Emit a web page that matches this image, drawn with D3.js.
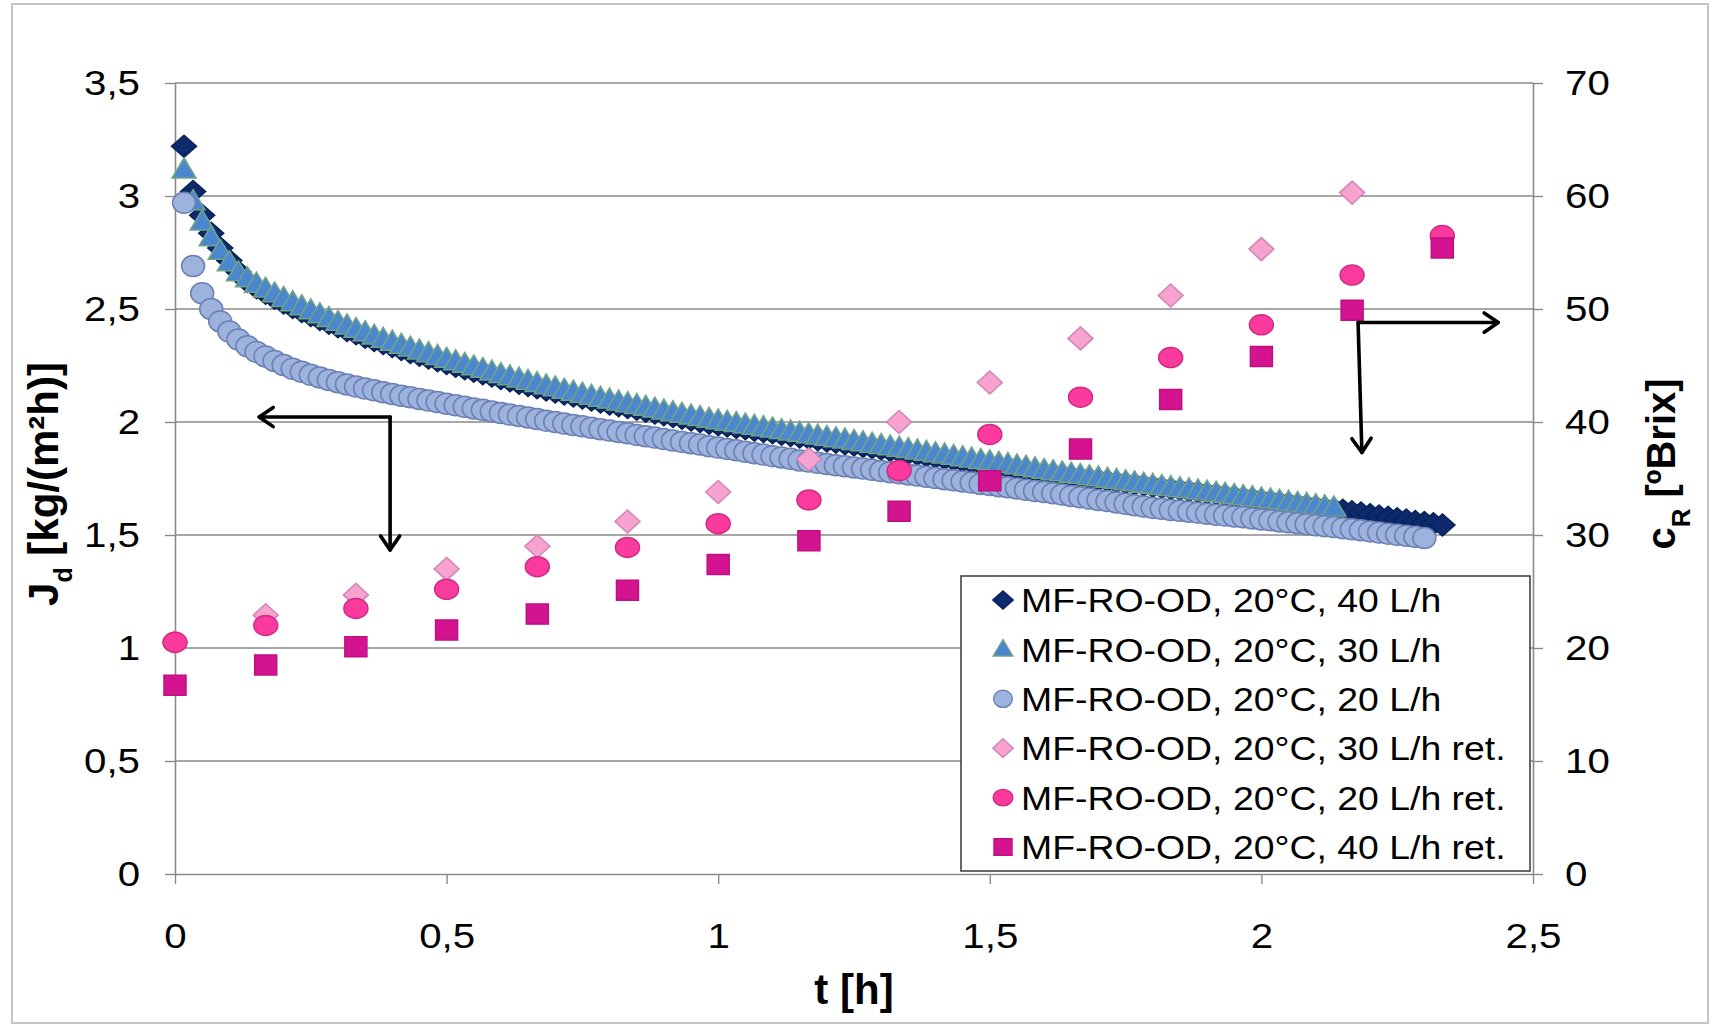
<!DOCTYPE html>
<html>
<head>
<meta charset="utf-8">
<script src="https://cdn.jsdelivr.net/npm/d3@7"></script>
<style>
  body { margin: 0; background: #fff; }
  text { font-family: "Liberation Sans", Arial, sans-serif; fill: #000; }
</style>
</head>
<body>
<div id="chart"></div>
<script>
// ---- data ----
// permeate flux J_d [kg/(m2h)], one reading per minute, starting at t = 1 min
const minuteStep = 1 / 60;
const flux40 = [3.22, 3.02, 2.915, 2.835, 2.770, 2.715, 2.665, 2.622, 2.594, 2.570,
  2.548, 2.527, 2.507, 2.489, 2.471, 2.454, 2.437, 2.421, 2.405, 2.390,
  2.375, 2.361, 2.347, 2.334, 2.321, 2.308, 2.295, 2.283, 2.271, 2.259,
  2.247, 2.236, 2.225, 2.214, 2.203, 2.192, 2.182, 2.172, 2.162, 2.152,
  2.142, 2.133, 2.124, 2.115, 2.106, 2.097, 2.089, 2.080, 2.072, 2.064,
  2.056, 2.048, 2.040, 2.032, 2.024, 2.017, 2.009, 2.002, 1.995, 1.988,
  1.982, 1.976, 1.970, 1.964, 1.958, 1.952, 1.946, 1.940, 1.934, 1.928,
  1.922, 1.916, 1.910, 1.904, 1.898, 1.892, 1.886, 1.880, 1.874, 1.868,
  1.862, 1.856, 1.850, 1.844, 1.838, 1.832, 1.826, 1.820, 1.814, 1.808,
  1.802, 1.796, 1.791, 1.786, 1.780, 1.775, 1.770, 1.765, 1.760, 1.755,
  1.750, 1.745, 1.740, 1.735, 1.730, 1.725, 1.720, 1.715, 1.710, 1.705,
  1.700, 1.695, 1.690, 1.685, 1.680, 1.675, 1.670, 1.665, 1.660, 1.655,
  1.650, 1.645, 1.640, 1.635, 1.630, 1.625, 1.620, 1.615, 1.609, 1.603,
  1.597, 1.590, 1.584, 1.578, 1.572, 1.566, 1.560, 1.555, 1.550, 1.544];
const flux30 = [3.115, 2.975, 2.885, 2.815, 2.755, 2.705, 2.660, 2.634, 2.610, 2.588,
  2.567, 2.547, 2.528, 2.510, 2.492, 2.475, 2.458, 2.441, 2.425, 2.410,
  2.395, 2.380, 2.366, 2.353, 2.340, 2.327, 2.314, 2.302, 2.290, 2.278,
  2.267, 2.255, 2.244, 2.233, 2.221, 2.210, 2.200, 2.190, 2.180, 2.170,
  2.160, 2.151, 2.141, 2.132, 2.123, 2.114, 2.105, 2.097, 2.089, 2.081,
  2.073, 2.065, 2.057, 2.049, 2.041, 2.034, 2.027, 2.020, 2.012, 2.005,
  1.999, 1.993, 1.987, 1.981, 1.975, 1.969, 1.962, 1.956, 1.950, 1.944,
  1.938, 1.932, 1.926, 1.920, 1.914, 1.908, 1.902, 1.896, 1.890, 1.884,
  1.878, 1.872, 1.866, 1.860, 1.854, 1.848, 1.842, 1.836, 1.830, 1.824,
  1.818, 1.812, 1.806, 1.800, 1.793, 1.786, 1.780, 1.775, 1.769, 1.764,
  1.758, 1.753, 1.747, 1.742, 1.736, 1.731, 1.725, 1.720, 1.715, 1.710,
  1.705, 1.700, 1.695, 1.690, 1.685, 1.680, 1.675, 1.670, 1.665, 1.660,
  1.655, 1.650, 1.645, 1.640, 1.635, 1.630, 1.625, 1.620];
const flux20 = [2.97, 2.69, 2.57, 2.50, 2.445, 2.400, 2.365, 2.335, 2.310, 2.290,
  2.270, 2.252, 2.236, 2.222, 2.209, 2.197, 2.186, 2.176, 2.166, 2.157,
  2.148, 2.140, 2.132, 2.124, 2.116, 2.109, 2.102, 2.095, 2.088, 2.081,
  2.074, 2.067, 2.060, 2.054, 2.047, 2.040, 2.033, 2.027, 2.020, 2.013,
  2.006, 2.000, 1.993, 1.987, 1.981, 1.975, 1.968, 1.962, 1.956, 1.950,
  1.943, 1.937, 1.931, 1.925, 1.918, 1.912, 1.906, 1.900, 1.893, 1.887,
  1.881, 1.875, 1.868, 1.862, 1.856, 1.849, 1.843, 1.837, 1.830, 1.825,
  1.820, 1.814, 1.809, 1.804, 1.799, 1.794, 1.789, 1.783, 1.778, 1.773,
  1.768, 1.763, 1.758, 1.752, 1.747, 1.742, 1.737, 1.732, 1.726, 1.721,
  1.716, 1.711, 1.706, 1.700, 1.695, 1.690, 1.685, 1.679, 1.673, 1.667,
  1.661, 1.655, 1.650, 1.644, 1.638, 1.632, 1.626, 1.620, 1.616, 1.611,
  1.607, 1.603, 1.599, 1.594, 1.590, 1.586, 1.582, 1.578, 1.573, 1.569,
  1.565, 1.560, 1.556, 1.552, 1.548, 1.543, 1.539, 1.535, 1.530, 1.525,
  1.521, 1.516, 1.511, 1.506, 1.501, 1.497, 1.492, 1.487];

// retentate concentration c_R [ºBrix], every 10 min
const retTimes = [0, 0.167, 0.333, 0.5, 0.667, 0.833, 1, 1.167, 1.333, 1.5, 1.667, 1.833, 2, 2.167, 2.333];
const ret30 = [20.5, 22.9, 24.7, 27.0, 29.0, 31.2, 33.8, 36.7, 40.0, 43.5, 47.4, 51.2, 55.3, 60.3];
const ret20 = [20.5, 22.0, 23.5, 25.2, 27.2, 28.9, 31.0, 33.1, 35.7, 38.9, 42.2, 45.7, 48.6, 53.0, 56.5];
const ret40 = [16.7, 18.5, 20.1, 21.6, 23.0, 25.1, 27.4, 29.5, 32.1, 34.8, 37.6, 42.0, 45.8, 49.9, 55.4];

const xTicks = [0, 0.5, 1, 1.5, 2, 2.5];
const yLeftTicks = [0, 0.5, 1, 1.5, 2, 2.5, 3, 3.5];
const yRightTicks = [0, 10, 20, 30, 40, 50, 60, 70];
const legendLabels = ['MF-RO-OD, 20°C, 40 L/h', 'MF-RO-OD, 20°C, 30 L/h', 'MF-RO-OD, 20°C, 20 L/h',
  'MF-RO-OD, 20°C, 30 L/h ret.', 'MF-RO-OD, 20°C, 20 L/h ret.', 'MF-RO-OD, 20°C, 40 L/h ret.'];

// ---- layout ----
const W = 1713, H = 1027;
const plot = {left: 175, right: 1533, top: 83, bottom: 874};

const svg = d3.select('#chart').append('svg')
  .attr('width', W).attr('height', H);

// outer frame
svg.append('rect')
  .attr('x', 12).attr('y', 4).attr('width', 1696).attr('height', 1019)
  .attr('fill', 'none').attr('stroke', '#c4c4c4').attr('stroke-width', 2);

const x = d3.scaleLinear().domain([0, 2.5]).range([plot.left, plot.right]);
const yL = d3.scaleLinear().domain([0, 3.5]).range([plot.bottom, plot.top]);
const yR = d3.scaleLinear().domain([0, 70]).range([plot.bottom, plot.top]);
const comma = d => String(d).replace('.', ',');

// widen regular text a little, the original is stretched horizontally
let stretch = (sel, k) => sel.each(function() {
  this.setAttribute('textLength', this.getComputedTextLength() * k);
  this.setAttribute('lengthAdjust', 'spacingAndGlyphs');
});

// gridlines
svg.append('g').attr('id', 'grid')
  .selectAll('line').data(yLeftTicks.filter(d => d > 0)).enter()
  .append('line')
    .attr('x1', plot.left).attr('x2', plot.right)
    .attr('y1', d => yL(d)).attr('y2', d => yL(d))
    .attr('stroke', '#8a8a8a').attr('stroke-width', 1.4);

// axes
const gridColor = '#8a8a8a';
let styleAxis = (g) => {
  g.select('.domain').attr('stroke', gridColor).attr('stroke-width', 1.6);
  g.selectAll('.tick line').attr('stroke', gridColor).attr('stroke-width', 1.4);
  g.selectAll('.tick text').style('font-size', '35px').attr('fill', '#000');
};

let xAxisG = svg.append('g').attr('transform', `translate(0,${plot.bottom})`)
  .call(d3.axisBottom(x).tickValues(xTicks).tickFormat(comma).tickSize(10).tickSizeOuter(0));
styleAxis(xAxisG);
xAxisG.selectAll('.tick text').attr('dy', null).attr('y', 74);

let yLAxisG = svg.append('g').attr('transform', `translate(${plot.left},0)`)
  .call(d3.axisLeft(yL).tickValues(yLeftTicks).tickFormat(comma).tickSize(10).tickPadding(25).tickSizeOuter(0));
styleAxis(yLAxisG);

let yRAxisG = svg.append('g').attr('transform', `translate(${plot.right},0)`)
  .call(d3.axisRight(yR).tickValues(yRightTicks).tickSize(10).tickPadding(22).tickSizeOuter(0));
styleAxis(yRAxisG);

stretch(svg.selectAll('.tick text'), 1.15);

// axis titles
svg.append('text')
  .attr('x', (plot.left + plot.right) / 2).attr('y', 1004)
  .attr('text-anchor', 'middle')
  .style('font-size', '42px').style('font-weight', 'bold')
  .text('t [h]');

let yLTitle = svg.append('text')
  .attr('transform', 'translate(58,484) rotate(-90)')
  .attr('text-anchor', 'middle')
  .style('font-size', '42px').style('font-weight', 'bold');
yLTitle.append('tspan').text('J');
yLTitle.append('tspan').attr('baseline-shift', 'sub').style('font-size', '25px').text('d');
yLTitle.append('tspan').text(' [kg/(m²h)]');

let yRTitle = svg.append('text')
  .attr('transform', 'translate(1675,464) rotate(-90)')
  .attr('text-anchor', 'middle')
  .style('font-size', '40px').style('font-weight', 'bold');
yRTitle.append('tspan').text('c');
yRTitle.append('tspan').attr('baseline-shift', 'sub').style('font-size', '26px').text('R');
yRTitle.append('tspan').text(' [ºBrix]');

// ---- marker shapes ----
let diamondPath = (w, h) => `M0,${-h / 2}L${w / 2},0L0,${h / 2}L${-w / 2},0Z`;
let trianglePath = (w, h) => `M0,${-h * 0.6}L${w / 2},${h * 0.4}L${-w / 2},${h * 0.4}Z`;
let squarePath = (w, h) => `M${-w / 2},${-h / 2}h${w}v${h}h${-w}Z`;
let ellipsePath = (w, h) => `M${-w / 2},0a${w / 2},${h / 2} 0 1,0 ${w},0a${w / 2},${h / 2} 0 1,0 ${-w},0Z`;

const series = [
  {name: 'f40', values: flux40, shape: diamondPath, w: 25, h: 22, fill: '#0c2a6c', stroke: '#0a2259'},
  {name: 'f30', values: flux30, shape: trianglePath, w: 24, h: 20, fill: '#4a87cf', stroke: '#72a386'},
  {name: 'f20', values: flux20, shape: ellipsePath, w: 23, h: 21, fill: '#9db2dc', stroke: '#6b80b4'},
  {name: 'r30', values: ret30, ret: true, shape: diamondPath, w: 25, h: 23, fill: '#f7a2cf', stroke: '#cf86b8'},
  {name: 'r20', values: ret20, ret: true, shape: ellipsePath, w: 24, h: 20, fill: '#fb3a9e', stroke: '#cf2c86'},
  {name: 'r40', values: ret40, ret: true, shape: squarePath, w: 22, h: 20, fill: '#d3138f', stroke: '#c00f80'}
];

let dataCont = svg.append('g').attr('id', 'dataCont');
series.forEach(s => {
  let pts = s.values.map((v, i) => s.ret
    ? [x(retTimes[i]), yR(v)]
    : [x((i + 1) * minuteStep), yL(v)]);
  dataCont.append('g').attr('class', s.name)
    .selectAll('path').data(pts).enter()
    .append('path')
      .attr('d', s.shape(s.w, s.h))
      .attr('transform', d => `translate(${d[0]},${d[1]})`)
      .attr('fill', s.fill).attr('stroke', s.stroke).attr('stroke-width', 1.5);
});

// ---- arrows (annotation) ----
let arrows = svg.append('g').attr('id', 'arrows')
  .attr('stroke', '#000').attr('stroke-width', 3.6).attr('fill', 'none')
  .attr('stroke-linecap', 'round').attr('stroke-linejoin', 'round');
let arrowHead = (x1, y1, x2, y2) => {
  let a = Math.atan2(y2 - y1, x2 - x1), L = 17, sp = 0.6;
  return `M${x2 - L * Math.cos(a - sp)},${y2 - L * Math.sin(a - sp)}L${x2},${y2}L${x2 - L * Math.cos(a + sp)},${y2 - L * Math.sin(a + sp)}`;
};
let arrow = (x1, y1, x2, y2) => {
  arrows.append('path').attr('d', `M${x1},${y1}L${x2},${y2}`);
  arrows.append('path').attr('d', arrowHead(x1, y1, x2, y2));
};
// left arrows point to the flux axis, right ones to the Brix axis
arrow(x(0.396), yL(2.022), x(0.155), yL(2.022));
arrow(x(0.396), yL(2.022), x(0.396), yL(1.434));
arrow(x(2.178), yR(48.8), x(2.436), yR(48.8));
arrow(x(2.178), yR(48.8), x(2.185), yR(37.3));

// ---- legend ----
let legend = svg.append('g').attr('id', 'legend');
legend.append('rect')
  .attr('x', 961).attr('y', 576).attr('width', 569).attr('height', 295)
  .attr('fill', '#fff').attr('stroke', '#444').attr('stroke-width', 1.6);
let rows = legend.selectAll('.row').data(series).enter()
  .append('g').attr('class', 'row')
  .attr('transform', (d, i) => `translate(1003,${600 + i * 49.4})`);
rows.append('path')
  .attr('d', d => d.shape(d.w * 0.82, d.h * 0.82))
  .attr('fill', d => d.fill).attr('stroke', d => d.stroke).attr('stroke-width', 1.4);
let legendText = rows.append('text')
  .attr('x', 18).attr('dy', '0.36em')
  .style('font-size', '34px')
  .text((d, i) => legendLabels[i]);
stretch(legendText, 1.1);
</script>
</body>
</html>
